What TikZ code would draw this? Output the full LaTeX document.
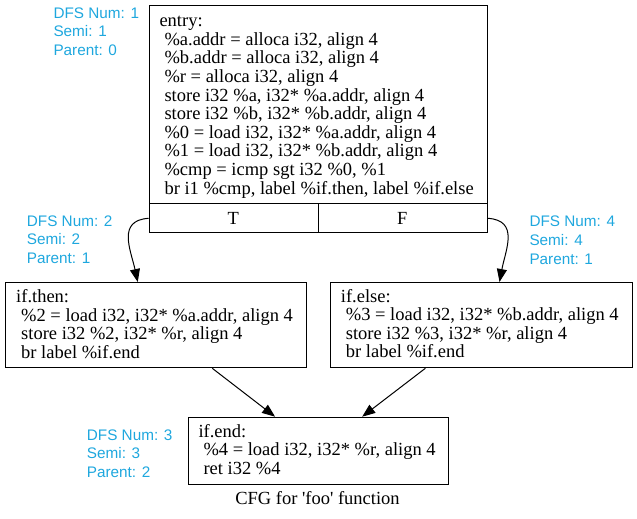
\documentclass[tikz,border=0pt]{standalone}
\usepackage{fontspec}
\setmainfont{Liberation Serif}
\newfontfamily\lblfont{Liberation Sans}
\usetikzlibrary{arrows.meta,calc}
\definecolor{dfsblue}{RGB}{30,167,222}
\newcommand{\ind}{\hspace*{5pt}}
\begin{document}
\begin{tikzpicture}[x=1pt,y=-1pt,
  blk/.style={draw, line width=1pt, inner sep=0pt, anchor=north west},
  code/.style={anchor=base west, inner sep=0pt, font=\fontsize{18.5}{18.6}\selectfont},
  info/.style={anchor=base west, inner sep=0pt, text=dfsblue, font=\lblfont\fontsize{15.3}{18.7}\selectfont},
  edge/.style={line width=1pt, -{Triangle[length=13pt,width=10pt]}}]
\useasboundingbox (0,0) rectangle (637,519);

% blocks
\node[blk, minimum width=338pt, minimum height=198pt] (entry) at (148.7,5.3) {};
\node[blk, minimum width=169pt, minimum height=29pt] (entT) at (148.7,203.3) {};
\node[blk, minimum width=169pt, minimum height=29pt] (entF) at (317.7,203.3) {};
\node[blk, minimum width=300.7pt, minimum height=85.3pt] (ifthen) at (5,282) {};
\node[blk, minimum width=301.7pt, minimum height=85.3pt] (ifelse) at (330,282) {};
\node[blk, minimum width=260.6pt, minimum height=67.3pt] (ifend) at (187.7,416.7) {};

% block texts
\node[code] (entrytxt) at (159.3,26.7) {\begin{tabular}[t]{@{}l@{}}
entry:\\
\ind\%a.addr = alloca i32, align 4\\
\ind\%b.addr = alloca i32, align 4\\
\ind\%r = alloca i32, align 4\\
\ind store i32 \%a, i32* \%a.addr, align 4\\
\ind store i32 \%b, i32* \%b.addr, align 4\\
\ind\%0 = load i32, i32* \%a.addr, align 4\\
\ind\%1 = load i32, i32* \%b.addr, align 4\\
\ind\%cmp = icmp sgt i32 \%0, \%1\\
\ind br i1 \%cmp, label \%if.then, label \%if.else
\end{tabular}};
\node[code, anchor=base] (Ttxt) at (233.2,224) {T};
\node[code, anchor=base] (Ftxt) at (402.2,224) {F};

\node[code] (thentxt) at (16,302.7) {\begin{tabular}[t]{@{}l@{}}
if.then:\\
\ind\%2 = load i32, i32* \%a.addr, align 4\\
\ind store i32 \%2, i32* \%r, align 4\\
\ind br label \%if.end
\end{tabular}};
\node[code] (elsetxt) at (340.7,302) {\begin{tabular}[t]{@{}l@{}}
if.else:\\
\ind\%3 = load i32, i32* \%b.addr, align 4\\
\ind store i32 \%3, i32* \%r, align 4\\
\ind br label \%if.end
\end{tabular}};
\node[code] (endtxt) at (198.3,437.3) {\begin{tabular}[t]{@{}l@{}}
if.end:\\
\ind\%4 = load i32, i32* \%r, align 4\\
\ind ret i32 \%4
\end{tabular}};

\node[code, anchor=base] (caption) at (317.5,504) {CFG for \textquotesingle foo\textquotesingle{} function};

% DFS info
\node[info] (dfs1) at (53.3,18.3) {\begin{tabular}[t]{@{}l@{}}DFS Num: 1\\Semi: 1\\Parent: 0\end{tabular}};
\node[info] (dfs2) at (26.7,226) {\begin{tabular}[t]{@{}l@{}}DFS Num: 2\\Semi: 2\\Parent: 1\end{tabular}};
\node[info] (dfs4) at (529.3,226.7) {\begin{tabular}[t]{@{}l@{}}DFS Num: 4\\Semi: 4\\Parent: 1\end{tabular}};
\node[info] (dfs3) at (86.7,440) {\begin{tabular}[t]{@{}l@{}}DFS Num: 3\\Semi: 3\\Parent: 2\end{tabular}};

% edges
\draw[edge] (entT.west) .. controls +(-32,2) and +(-7,-32) .. ($(ifthen.north west)!0.44!(ifthen.north east)$);
\draw[edge] (entF.east) .. controls +(32,2) and +(6,-32) .. ($(ifelse.north west)!0.56!(ifelse.north east)$);
\draw[edge] ($(ifthen.south west)!0.687!(ifthen.south east)$) -- ($(ifend.north west)!0.334!(ifend.north east)$);
\draw[edge] ($(ifelse.south west)!0.315!(ifelse.south east)$) -- ($(ifend.north west)!0.667!(ifend.north east)$);
\end{tikzpicture}
\end{document}
